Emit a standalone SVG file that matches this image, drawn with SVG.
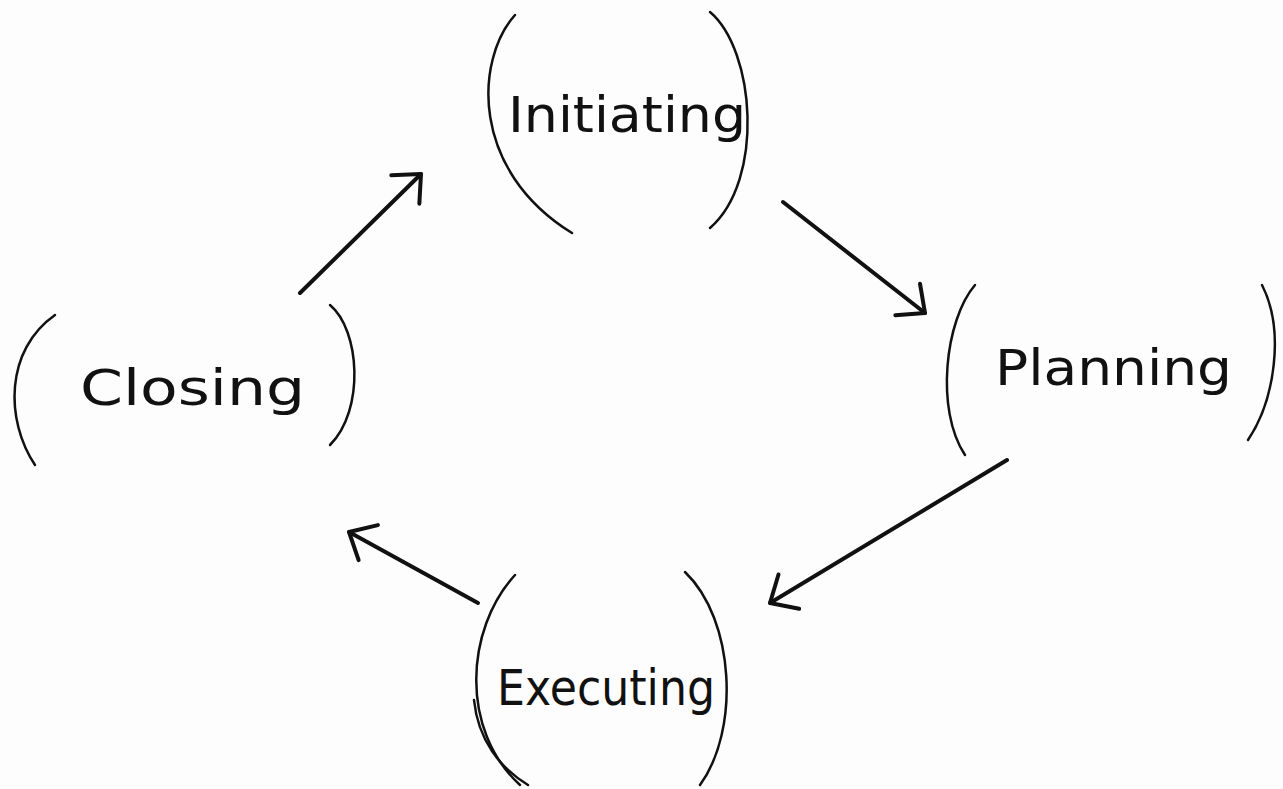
<svg xmlns="http://www.w3.org/2000/svg" width="1283" height="789" viewBox="0 0 1283 789">
  <defs>
    <marker id="head" viewBox="-26 -26 30 52" refX="0" refY="0" markerWidth="30" markerHeight="52" markerUnits="userSpaceOnUse" orient="auto">
      <path d="M -22 -20 L 0 0 L -22 20" fill="none" stroke="#111" stroke-width="4" stroke-linecap="round" stroke-linejoin="round"/>
    </marker>
  </defs>
  <style>
    .paren { fill: none; stroke: #111; stroke-width: 2.5; stroke-linecap: round; }
    .label { font-family: "DejaVu Sans", "Liberation Sans", sans-serif; font-size: 50px; fill: #111; }
    .conn { fill: none; stroke: #111; stroke-width: 4; stroke-linecap: round; }
  </style>
  <rect width="1283" height="789" fill="#fdfdfd"/>

  <g id="initiating">
    <path class="paren" d="M515,15 C475,60 470,170 572,233"/>
    <path class="paren" d="M710,12 C755,50 765,180 710,228"/>
    <text class="label" x="508" y="132" textLength="238" lengthAdjust="spacingAndGlyphs">Initiating</text>
  </g>

  <g id="planning">
    <path class="paren" d="M975,285 C945,320 935,410 965,455"/>
    <path class="paren" d="M1262,285 C1285,330 1275,400 1248,440"/>
    <text class="label" x="995" y="385" textLength="237" lengthAdjust="spacingAndGlyphs">Planning</text>
  </g>

  <g id="closing">
    <path class="paren" d="M55,315 C5,350 5,420 35,465"/>
    <path class="paren" d="M330,305 C360,330 365,410 330,445"/>
    <text class="label" x="80" y="405" textLength="225" lengthAdjust="spacingAndGlyphs">Closing</text>
  </g>

  <g id="executing">
    <path class="paren" d="M515,575 C465,630 460,730 520,785"/>
    <path class="paren" d="M685,572 C735,620 740,730 700,785"/>
    <path class="paren" d="M474,700 C478,740 500,768 528,785" stroke-width="3"/>
    <text class="label" x="497" y="705" textLength="218" lengthAdjust="spacingAndGlyphs">Executing</text>
  </g>

  <g id="connectors">
    <line class="conn" x1="300" y1="293" x2="421" y2="174" marker-end="url(#head)"/>
    <line class="conn" x1="783" y1="202" x2="925" y2="313" marker-end="url(#head)"/>
    <line class="conn" x1="1007" y1="460" x2="770" y2="603" marker-end="url(#head)"/>
    <line class="conn" x1="478" y1="603" x2="349" y2="532" marker-end="url(#head)"/>
  </g>
</svg>
